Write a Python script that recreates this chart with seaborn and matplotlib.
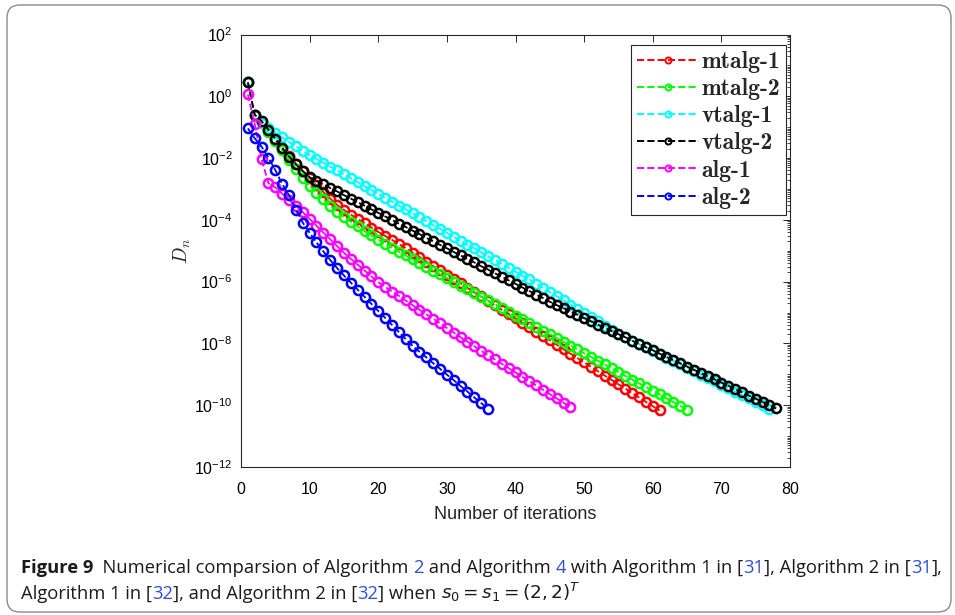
import os
import numpy as np
import pandas as pd
import matplotlib
matplotlib.use("Agg")
import matplotlib as mpl
import matplotlib.pyplot as plt
from matplotlib.font_manager import FontProperties
from matplotlib.lines import Line2D
from matplotlib.patches import FancyBboxPatch
from matplotlib.transforms import IdentityTransform
from matplotlib.ticker import LogLocator, NullFormatter
import seaborn as sns

# log10(D_n) at iterations n = 1, 2, 3, ...
mtalg1_log10 = [0.45, -0.60, -0.83, -1.10, -1.38, -1.66, -1.93, -2.18, -2.42, -2.65,
                -2.88, -3.10, -3.31, -3.52, -3.68, -3.83, -3.97, -4.11, -4.25, -4.39,
                -4.52, -4.65, -4.78, -4.92, -5.06, -5.20, -5.35, -5.49, -5.63, -5.77,
                -5.91, -6.06, -6.20, -6.34, -6.48, -6.62, -6.77, -6.91, -7.05, -7.19,
                -7.33, -7.48, -7.62, -7.76, -7.90, -8.04, -8.19, -8.33, -8.47, -8.61,
                -8.75, -8.90, -9.04, -9.18, -9.32, -9.46, -9.61, -9.75, -9.89, -10.03,
                -10.17]
mtalg2_log10 = [0.45, -0.60, -0.85, -1.15, -1.45, -1.75, -2.05, -2.35, -2.65, -2.90,
                -3.12, -3.34, -3.54, -3.73, -3.90, -4.06, -4.21, -4.36, -4.50, -4.64,
                -4.77, -4.90, -5.03, -5.15, -5.27, -5.40, -5.52, -5.64, -5.76, -5.88,
                -6.00, -6.13, -6.25, -6.37, -6.49, -6.61, -6.73, -6.86, -6.98, -7.10,
                -7.22, -7.34, -7.46, -7.59, -7.71, -7.83, -7.95, -8.07, -8.19, -8.32,
                -8.44, -8.56, -8.68, -8.80, -8.92, -9.05, -9.17, -9.29, -9.41, -9.53,
                -9.65, -9.78, -9.90, -10.02, -10.14]
vtalg1_log10 = [0.45, -0.62, -0.85, -1.03, -1.18, -1.33, -1.48, -1.62, -1.76, -1.90,
                -2.03, -2.15, -2.28, -2.40, -2.53, -2.66, -2.78, -2.91, -3.03, -3.16,
                -3.29, -3.41, -3.54, -3.66, -3.79, -3.92, -4.04, -4.17, -4.29, -4.42,
                -4.55, -4.67, -4.80, -4.92, -5.05, -5.18, -5.30, -5.43, -5.55, -5.68,
                -5.81, -5.93, -6.07, -6.20, -6.34, -6.47, -6.61, -6.74, -6.88, -7.01,
                -7.15, -7.28, -7.42, -7.55, -7.69, -7.80, -7.91, -8.02, -8.13, -8.24,
                -8.35, -8.46, -8.57, -8.68, -8.79, -8.90, -9.01, -9.12, -9.23, -9.34,
                -9.45, -9.56, -9.67, -9.78, -9.89, -10.00, -10.11]
vtalg2_log10 = [0.45, -0.60, -0.80, -1.08, -1.37, -1.67, -1.95, -2.20, -2.42, -2.62,
                -2.74, -2.85, -2.97, -3.08, -3.20, -3.31, -3.43, -3.54, -3.66, -3.77,
                -3.89, -4.00, -4.12, -4.23, -4.35, -4.46, -4.58, -4.69, -4.81, -4.92,
                -5.04, -5.15, -5.27, -5.38, -5.50, -5.61, -5.73, -5.84, -5.96, -6.07,
                -6.19, -6.30, -6.42, -6.53, -6.65, -6.76, -6.86, -6.97, -7.07, -7.18,
                -7.28, -7.39, -7.49, -7.60, -7.70, -7.80, -7.91, -8.01, -8.12, -8.22,
                -8.33, -8.43, -8.54, -8.64, -8.75, -8.85, -8.96, -9.06, -9.16, -9.27,
                -9.37, -9.48, -9.58, -9.69, -9.79, -9.90, -10.00, -10.10]
alg1_log10 = [0.06, -0.90, -2.04, -2.82, -2.95, -3.15, -3.35, -3.55, -3.75, -3.97,
              -4.19, -4.41, -4.63, -4.85, -5.07, -5.26, -5.45, -5.64, -5.83, -6.02,
              -6.17, -6.32, -6.46, -6.61, -6.76, -6.91, -7.06, -7.20, -7.35, -7.50,
              -7.65, -7.80, -7.94, -8.09, -8.24, -8.38, -8.52, -8.66, -8.80, -8.94,
              -9.08, -9.22, -9.36, -9.50, -9.64, -9.78, -9.92, -10.06]
alg2_log10 = [-1.04, -1.36, -1.63, -1.99, -2.39, -2.84, -3.20, -3.68, -4.09, -4.42,
              -4.73, -5.02, -5.30, -5.56, -5.80, -6.03, -6.26, -6.49, -6.72, -6.95,
              -7.17, -7.40, -7.63, -7.86, -8.08, -8.27, -8.45, -8.64, -8.82, -9.01,
              -9.19, -9.38, -9.56, -9.75, -9.93, -10.12]

series_names = ["mtalg-1", "mtalg-2", "vtalg-1", "vtalg-2", "alg-1", "alg-2"]
series_log10 = [mtalg1_log10, mtalg2_log10, vtalg1_log10, vtalg2_log10,
                alg1_log10, alg2_log10]
series_colors = ["#ff0000", "#00ff00", "#00ffff", "#000000", "#ff00ff", "#0000ff"]

x_ticks = [0, 10, 20, 30, 40, 50, 60, 70, 80]
y_tick_exponents = [2, 0, -2, -4, -6, -8, -10, -12]

# long-form table: one row per (method, iteration)
frames = []
for name, logs in zip(series_names, series_log10):
    logs = np.asarray(logs, dtype=float)
    frames.append(pd.DataFrame({
        "method": name,
        "iteration": np.arange(1, len(logs) + 1),
        "D": np.power(10.0, logs),
    }))
df = pd.concat(frames, ignore_index=True)

sns.set_theme(style="white")
plt.rcParams["font.family"] = ["Liberation Sans", "DejaVu Sans"]
plt.rcParams["axes.linewidth"] = 0.8

W, H = 955, 615
fig = plt.figure(figsize=(W / 100, H / 100), dpi=100)
fig.patch.set_facecolor("white")

# rounded card around figure and caption
card = FancyBboxPatch((7, 3), 944, 607, boxstyle="round,pad=0,rounding_size=13",
                      transform=IdentityTransform(), facecolor="none",
                      edgecolor="#8a8a8a", linewidth=1.0)
fig.patches.append(card)

ax_left, ax_right, ax_top, ax_bottom = 241, 790, 34.5, 467
ax = fig.add_axes([ax_left / W, 1 - ax_bottom / H,
                   (ax_right - ax_left) / W, (ax_bottom - ax_top) / H])
ax.set_yscale("log")

for name, color in zip(series_names, series_colors):
    sub = df[df["method"] == name]
    sns.lineplot(data=sub, x="iteration", y="D", ax=ax, color=color,
                 estimator=None, sort=False, legend=False,
                 marker="o", ms=6.6, mfc="none", mec=color, mew=1.8,
                 linestyle="--", lw=1.3)

ax.set_xlim(0, 80)
ax.set_ylim(1e-12, 1e2)
ax.set_xticks(x_ticks)
ax.set_xticklabels([str(t) for t in x_ticks])
ax.set_yticks([10.0 ** e for e in y_tick_exponents])
ax.set_yticklabels([r"$\mathdefault{10^{%d}}$" % e for e in y_tick_exponents])
ax.yaxis.set_minor_locator(LogLocator(base=10, subs=np.arange(1, 10), numticks=200))
ax.yaxis.set_minor_formatter(NullFormatter())

ax.tick_params(which="both", direction="in", top=True, right=True,
               colors="#262626", labelcolor="black")
ax.tick_params(which="major", length=5, width=0.7, labelsize=11.5)
ax.tick_params(axis="x", which="major", pad=11)
ax.tick_params(axis="y", which="major", pad=6)
ax.tick_params(which="minor", length=2.5, width=0.6)
for sp in ax.spines.values():
    sp.set_color("#262626")
    sp.set_linewidth(0.8)

ax.set_xlabel("Number of iterations", fontsize=13, labelpad=6)
ax.set_ylabel(r"$D_n$", fontsize=14, math_fontfamily="cm", labelpad=0)
ax.yaxis.set_label_coords(-0.088, 0.5)

# legend with Computer Modern bold labels
cmb = FontProperties(fname=os.path.join(mpl.get_data_path(), "fonts", "ttf", "cmb10.ttf"),
                     size=17)
handles = [Line2D([], [], color=c, ls="--", lw=1.4, marker="o", ms=4.4,
                  mfc="none", mec=c, mew=1.4) for c in series_colors]
leg = ax.legend(handles, series_names, loc="upper right",
                bbox_to_anchor=((786 - ax_left) / (ax_right - ax_left),
                                1 - (45 - ax_top) / (ax_bottom - ax_top)),
                borderaxespad=0, prop=cmb, frameon=True, fancybox=False,
                handlelength=2.6, handletextpad=0.12, labelspacing=0.22,
                borderpad=0.25, framealpha=1)
leg.get_frame().set_edgecolor("#262626")
leg.get_frame().set_linewidth(0.8)

# caption, laid out run by run
renderer = fig.canvas.get_renderer()
cap_family = ["Liberation Sans Narrow", "Open Sans", "DejaVu Sans"]
link_blue = "#2f4fd6"


def advance(text, size, weight, math=False):
    probe = fig.text(0, 0, text + "x", transform=IdentityTransform(), fontsize=size,
                     family=cap_family, weight=weight,
                     math_fontfamily="dejavusans" if math else None)
    ref = fig.text(0, 0, "x", transform=IdentityTransform(), fontsize=size,
                   family=cap_family, weight=weight)
    w = probe.get_window_extent(renderer).width - ref.get_window_extent(renderer).width
    probe.remove()
    ref.remove()
    return w


def draw_line(runs, x0, y0, size):
    x = x0
    for text, color, weight in runs:
        math = text.startswith("$")
        kw = dict(transform=IdentityTransform(), fontsize=size, family=cap_family,
                  weight=weight, color=color, va="baseline", ha="left")
        if math:
            kw["math_fontfamily"] = "dejavusans"
        fig.text(x, y0, text, **kw)
        x += advance(text, size, weight, math)
    return x


line1 = [("Figure 9", "#1a1a1a", "bold"),
         ("  Numerical comparsion of Algorithm ", "#1a1a1a", "normal"),
         ("2", link_blue, "normal"),
         (" and Algorithm ", "#1a1a1a", "normal"),
         ("4", link_blue, "normal"),
         (" with Algorithm 1 in [", "#1a1a1a", "normal"),
         ("31", link_blue, "normal"),
         ("], Algorithm 2 in [", "#1a1a1a", "normal"),
         ("31", link_blue, "normal"),
         ("],", "#1a1a1a", "normal")]
line2 = [("Algorithm 1 in [", "#1a1a1a", "normal"),
         ("32", link_blue, "normal"),
         ("], and Algorithm 2 in [", "#1a1a1a", "normal"),
         ("32", link_blue, "normal"),
         ("] when ", "#1a1a1a", "normal"),
         (r"$s_0 = s_1 = (2, 2)^T$", "#1a1a1a", "normal")]

cap_size = 12.5
total = sum(advance(t, cap_size, w, t.startswith("$")) for t, c, w in line1)
cap_size = cap_size * (944 - 21) / total
draw_line(line1, 21, H - 573, cap_size)
draw_line(line2, 21, H - 599, cap_size)

fig.savefig("out.png", dpi=100, facecolor="white")
